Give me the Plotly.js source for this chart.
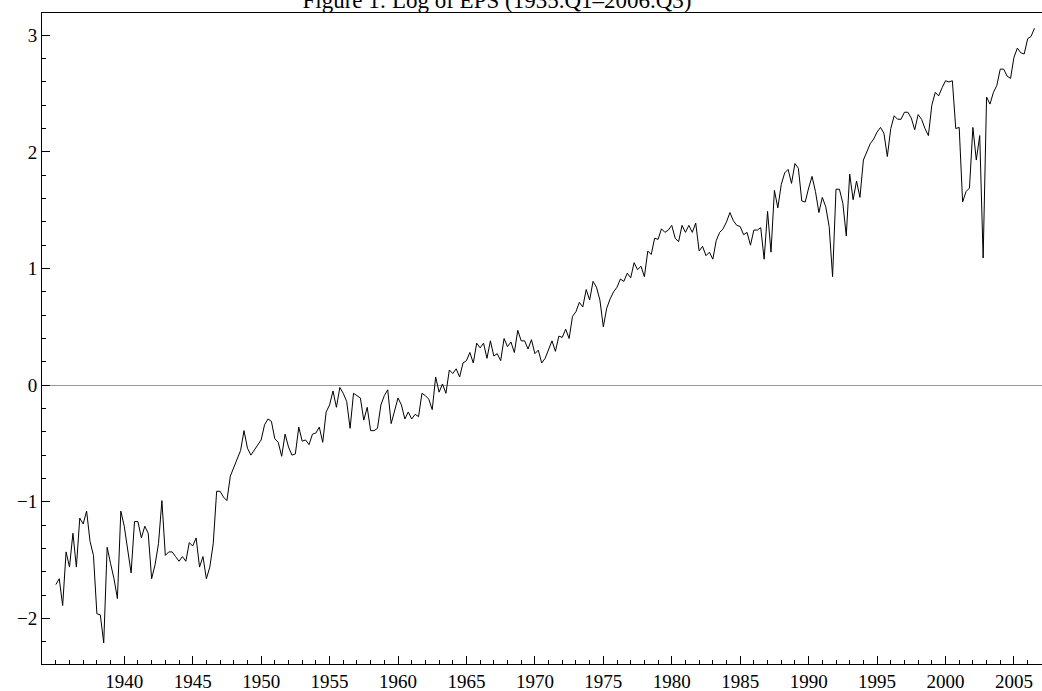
<!DOCTYPE html>
<html>
<head>
<meta charset="utf-8">
<script src="https://cdn.plot.ly/plotly-3.0.1.min.js"></script>
<style>
  html, body { margin: 0; padding: 0; background: #ffffff; }
  #chart { width: 1042px; height: 691px; }
</style>
</head>
<body>
<div id="chart"></div>
<script>
// Log of EPS, quarterly, 1935.Q1 - 2006.Q3
const startYear = 1935;
const quartersPerYear = 4;

const eps1935to1944 = [
  -1.71, -1.66, -1.89, -1.43, -1.56, -1.27, -1.56, -1.14, -1.19, -1.08,
  -1.34, -1.46, -1.96, -1.97, -2.21, -1.39, -1.53, -1.66, -1.83, -1.08,
  -1.21, -1.41, -1.61, -1.17, -1.17, -1.31, -1.21, -1.27, -1.66, -1.54,
  -1.36, -0.99, -1.46, -1.43, -1.43, -1.47, -1.51, -1.47, -1.51, -1.35
];
const eps1945to1954 = [
  -1.38, -1.31, -1.56, -1.47, -1.66, -1.56, -1.36, -0.91, -0.91, -0.96,
  -0.99, -0.78, -0.71, -0.63, -0.56, -0.39, -0.54, -0.60, -0.56, -0.51,
  -0.47, -0.34, -0.29, -0.31, -0.46, -0.49, -0.61, -0.42, -0.53, -0.60,
  -0.59, -0.36, -0.48, -0.47, -0.51, -0.42, -0.41, -0.36, -0.49, -0.23
];
const eps1955to1964 = [
  -0.17, -0.05, -0.19, -0.02, -0.07, -0.14, -0.37, -0.07, -0.09, -0.11,
  -0.30, -0.19, -0.39, -0.39, -0.37, -0.17, -0.09, -0.04, -0.33, -0.21,
  -0.11, -0.17, -0.29, -0.23, -0.29, -0.25, -0.27, -0.07, -0.09, -0.12,
  -0.21, 0.07, -0.06, 0.01, -0.07, 0.13, 0.10, 0.14, 0.07, 0.19
];
const eps1965to1974 = [
  0.21, 0.28, 0.19, 0.36, 0.32, 0.36, 0.23, 0.38, 0.25, 0.27,
  0.21, 0.40, 0.33, 0.37, 0.28, 0.47, 0.38, 0.38, 0.31, 0.39,
  0.27, 0.30, 0.19, 0.23, 0.30, 0.38, 0.29, 0.42, 0.41, 0.48,
  0.40, 0.59, 0.63, 0.71, 0.67, 0.82, 0.73, 0.89, 0.84, 0.73
];
const eps1975to1984 = [
  0.50, 0.66, 0.74, 0.80, 0.84, 0.91, 0.89, 0.96, 0.92, 1.05,
  0.99, 1.02, 0.93, 1.15, 1.12, 1.26, 1.25, 1.34, 1.31, 1.33,
  1.37, 1.26, 1.23, 1.37, 1.31, 1.37, 1.31, 1.39, 1.15, 1.19,
  1.11, 1.14, 1.08, 1.24, 1.31, 1.34, 1.40, 1.48, 1.41, 1.37
];
const eps1985to1994 = [
  1.36, 1.29, 1.31, 1.20, 1.33, 1.33, 1.35, 1.08, 1.49, 1.14,
  1.67, 1.52, 1.72, 1.82, 1.85, 1.73, 1.90, 1.86, 1.58, 1.57,
  1.69, 1.79, 1.66, 1.48, 1.61, 1.53, 1.36, 0.93, 1.68, 1.68,
  1.56, 1.28, 1.81, 1.59, 1.75, 1.61, 1.93, 2.00, 2.07, 2.11
];
const eps1995to2006 = [
  2.17, 2.21, 2.16, 1.96, 2.20, 2.31, 2.28, 2.28, 2.34, 2.34,
  2.29, 2.19, 2.32, 2.28, 2.20, 2.14, 2.40, 2.51, 2.48, 2.55,
  2.61, 2.60, 2.61, 2.20, 2.21, 1.57, 1.66, 1.69, 2.21, 1.93,
  2.14, 1.09, 2.47, 2.41, 2.51, 2.57, 2.71, 2.71, 2.65, 2.63,
  2.81, 2.89, 2.85, 2.84, 2.97, 2.99, 3.06
];

const yearTicks = [1940, 1945, 1950, 1955, 1960, 1965, 1970, 1975, 1980, 1985, 1990, 1995, 2000, 2005];
const yearLabels = yearTicks.map(String);
const valueTicks = [-2, -1, 0, 1, 2, 3];

const logEPS = [].concat(eps1935to1944, eps1945to1954, eps1955to1964,
                         eps1965to1974, eps1975to1984, eps1985to1994, eps1995to2006);
const time = logEPS.map((_, i) => startYear + i / quartersPerYear);

const fontFamily = '"Liberation Serif", "Times New Roman", Times, serif';

const trace = {
  x: time,
  y: logEPS,
  type: 'scatter',
  mode: 'lines',
  line: { color: '#000000', width: 1 },
  hoverinfo: 'x+y'
};

const layout = {
  width: 1042,
  height: 691,
  margin: { l: 42, r: 0, t: 13, b: 27, pad: 0 },
  paper_bgcolor: '#ffffff',
  plot_bgcolor: '#ffffff',
  showlegend: false,
  font: { family: fontFamily, size: 19, color: '#000000' },
  title: {
    text: 'Figure 1: Log of EPS (1935.Q1\u20132006.Q3)',
    font: { family: fontFamily, size: 23, color: '#000000' },
    x: 497 / 1042,
    xanchor: 'center',
    xref: 'container',
    yref: 'container',
    y: 1,
    yanchor: 'middle'
  },
  xaxis: {
    range: [1933.99, 2007.05],
    tickmode: 'array',
    tickvals: yearTicks,
    ticktext: yearLabels,
    ticks: 'inside',
    ticklen: 8,
    tickwidth: 1,
    tickcolor: '#000000',
    showline: true,
    linecolor: '#000000',
    linewidth: 1,
    mirror: true,
    showgrid: false,
    zeroline: false,
    tickfont: { family: fontFamily, size: 19, color: '#000000' },
    minor: { tickmode: 'linear', tick0: 1934, dtick: 1, ticks: 'inside', ticklen: 4, tickwidth: 1, tickcolor: '#000000', showgrid: false }
  },
  yaxis: {
    range: [-2.391, 3.191],
    tickmode: 'array',
    tickvals: valueTicks,
    ticks: 'inside',
    ticklen: 8,
    tickwidth: 1,
    tickcolor: '#000000',
    showline: true,
    linecolor: '#000000',
    linewidth: 1,
    mirror: false,
    showgrid: false,
    zeroline: true,
    zerolinecolor: '#9a9a9a',
    zerolinewidth: 1,
    tickfont: { family: fontFamily, size: 19, color: '#000000' },
    minor: { tickmode: 'linear', tick0: 0, dtick: 0.2, ticks: 'inside', ticklen: 4, tickwidth: 1, tickcolor: '#000000', showgrid: false }
  }
};

Plotly.newPlot('chart', [trace], layout, { displayModeBar: false, staticPlot: true });
</script>
</body>
</html>
